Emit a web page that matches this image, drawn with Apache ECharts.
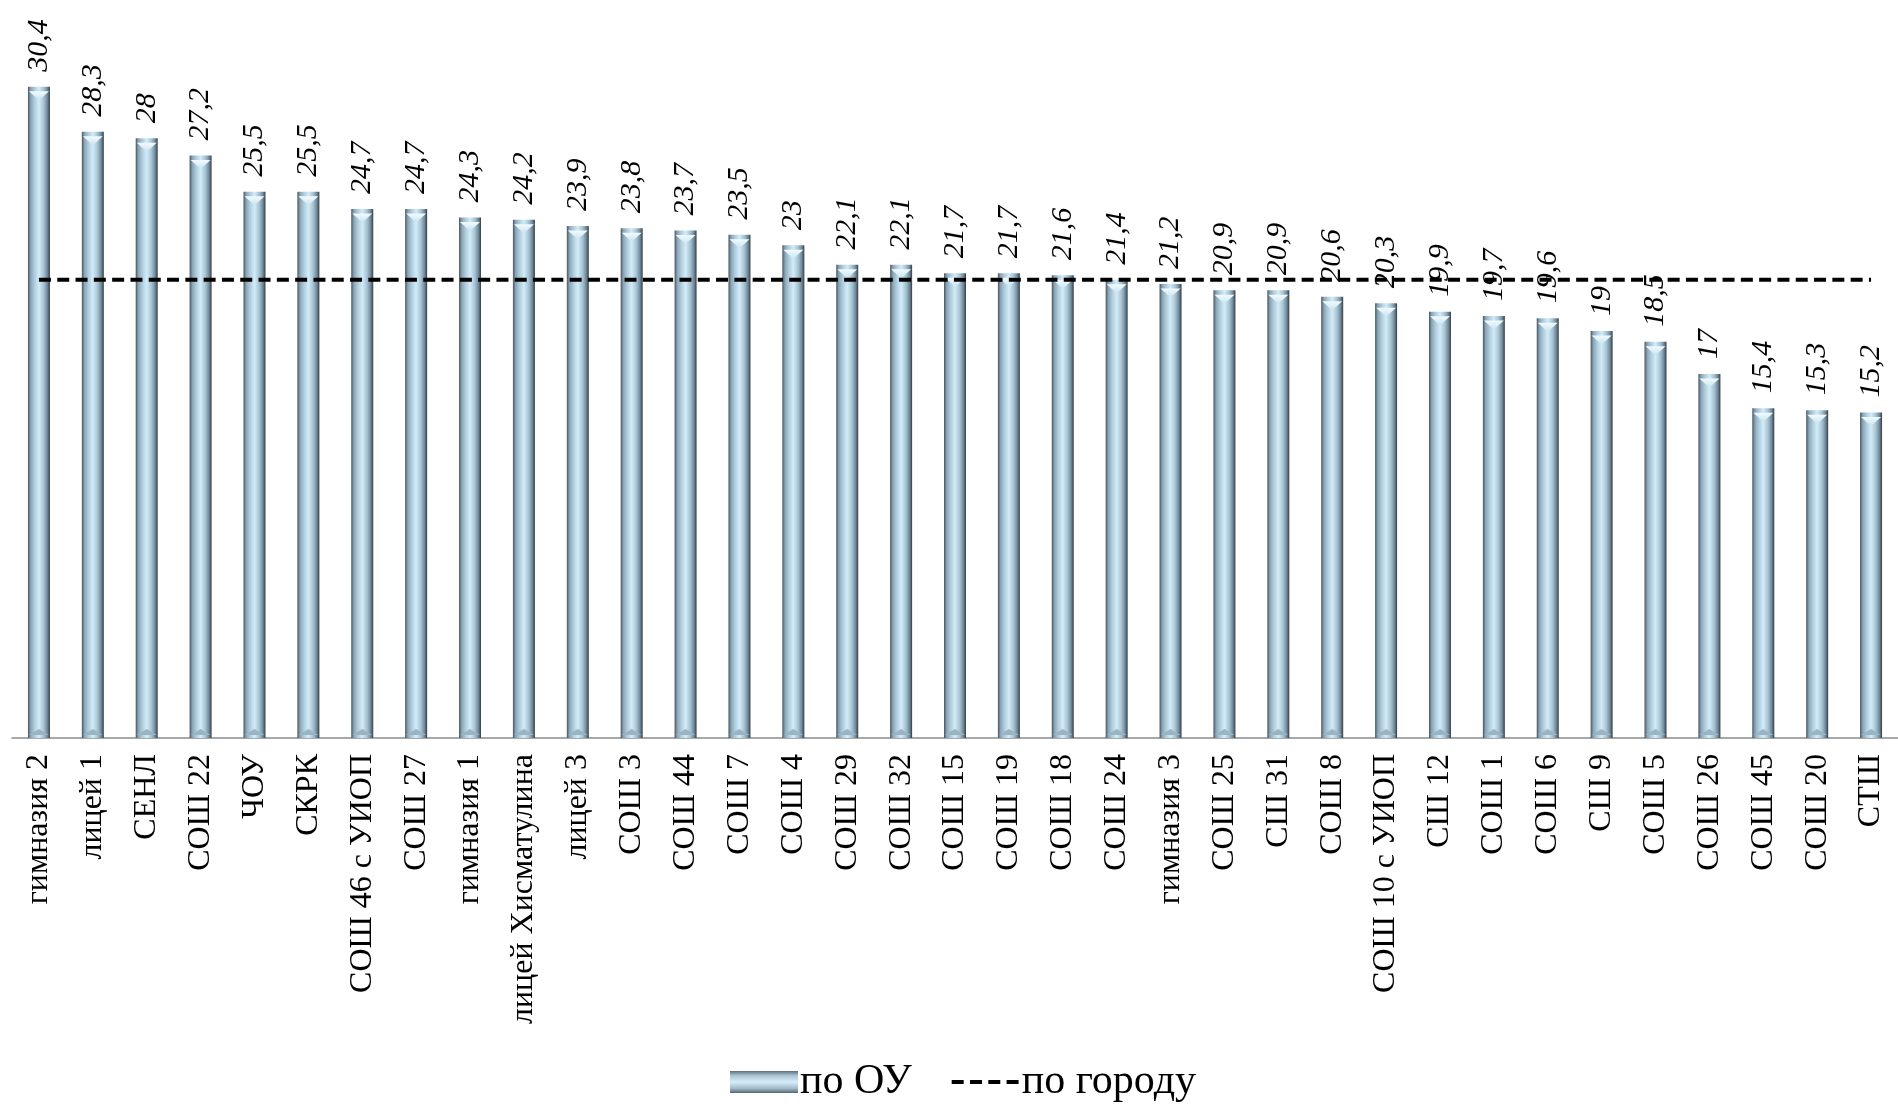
<!DOCTYPE html>
<html>
<head>
<meta charset="utf-8">
<script src="https://cdn.jsdelivr.net/npm/echarts@6/dist/echarts.min.js"></script>
<style>
html,body{margin:0;padding:0;background:#fff;}
#chart{width:1898px;height:1104px;}
</style>
</head>
<body>
<div id="chart"></div>
<script>
const categories = ['гимназия 2','лицей 1','СЕНЛ','СОШ 22','ЧОУ','СКРК','СОШ 46 с УИОП','СОШ 27','гимназия 1','лицей Хисматулина','лицей 3','СОШ 3','СОШ 44','СОШ 7','СОШ 4','СОШ 29','СОШ 32','СОШ 15','СОШ 19','СОШ 18','СОШ 24','гимназия 3','СОШ 25','СШ 31','СОШ 8','СОШ 10 с УИОП','СШ 12','СОШ 1','СОШ 6','СШ 9','СОШ 5','СОШ 26','СОШ 45','СОШ 20','СТШ'];
const schoolValues = [30.4,28.3,28,27.2,25.5,25.5,24.7,24.7,24.3,24.2,23.9,23.8,23.7,23.5,23,22.1,22.1,21.7,21.7,21.6,21.4,21.2,20.9,20.9,20.6,20.3,19.9,19.7,19.6,19,18.5,17,15.4,15.3,15.2];
const cityValue = 21.4;
const seriesNames = ['по ОУ','по городу'];

const serif = '"Liberation Serif","Times New Roman",serif';
const barGrad = new echarts.graphic.LinearGradient(0,0,1,0,[
  {offset:0,color:'#47545e'},
  {offset:0.12,color:'#8aa4b5'},
  {offset:0.3,color:'#b0cddd'},
  {offset:0.5,color:'#d2ecf8'},
  {offset:0.72,color:'#a6c2d2'},
  {offset:0.88,color:'#718a9a'},
  {offset:1,color:'#333d45'}
]);
const legendGrad = new echarts.graphic.LinearGradient(0,0,0,1,[
  {offset:0,color:'#5d6d79'},
  {offset:0.2,color:'#a6c2d1'},
  {offset:0.5,color:'#d6eef9'},
  {offset:0.8,color:'#9fb9c8'},
  {offset:1,color:'#56646e'}
]);
const capGrad = new echarts.graphic.LinearGradient(0,0,0,1,[
  {offset:0,color:'#f2fbfe'},
  {offset:1,color:'#c9e4f0'}
]);
const dashStyle = {color:'#000', width:4, type:[12,6.3]};

const chart = echarts.init(document.getElementById('chart'), null, {renderer:'canvas'});
chart.setOption({
  animation:false,
  grid:{left:12, right:-9, top:52.6, bottom:366, containLabel:false},
  legend:{
    left:725, top:1056,
    itemWidth:68, itemHeight:22, itemGap:38,
    textStyle:{fontFamily:serif, fontSize:42, color:'#000', padding:[0,0,0,-3]},
    data:[
      {name:seriesNames[0], icon:'rect', itemStyle:{color:legendGrad}},
      {name:seriesNames[1], itemStyle:{color:'rgba(0,0,0,0)', borderWidth:0, opacity:0},
       lineStyle:{color:'#000', width:4, type:[12,6.3]}}
    ]
  },
  xAxis:{
    type:'category', data:categories, boundaryGap:true,
    axisLine:{lineStyle:{color:'#8c8c8c', width:1.5}},
    axisTick:{length:9, lineStyle:{color:'#8c8c8c', width:1.5}},
    axisLabel:{rotate:90, interval:0, margin:16, fontFamily:serif, fontSize:32, color:'#000'}
  },
  yAxis:{type:'value', min:0, max:32, show:false, splitLine:{show:false}},
  series:[
    {
      name:seriesNames[0], type:'bar', data:schoolValues, barWidth:22,
      itemStyle:{color:barGrad},
      label:{
        show:true, position:'top', rotate:90, align:'left', verticalAlign:'middle', distance:15,
        fontFamily:serif, fontStyle:'italic', fontSize:30, color:'#000',
        formatter:p=>String(p.value).replace('.',',')
      },
      z:2
    },
    {
      name:'cap', type:'pictorialBar', data:schoolValues, barWidth:22,
      symbol:'path://M0,0 L20,0 L10,8 Z', symbolSize:[20,9], symbolPosition:'end',
      symbolOffset:[0,'50%'], itemStyle:{color:capGrad}, silent:true, z:3, legendHoverLink:false
    },
    {
      name:'base', type:'pictorialBar', data:schoolValues, barWidth:22,
      symbol:'path://M10,0 L20,6 L0,6 Z', symbolSize:[20,6], symbolPosition:'start',
      symbolOffset:[0,'-50%'], itemStyle:{color:'#9ab4c3'}, silent:true, z:3, legendHoverLink:false
    },
    {
      name:seriesNames[1], type:'line',
      data:[[categories[0], cityValue],[categories[categories.length-1], cityValue]],
      symbol:'none', showSymbol:false,
      lineStyle:dashStyle,
      itemStyle:{color:'#000'},
      z:5
    }
  ]
});
</script>
</body>
</html>
